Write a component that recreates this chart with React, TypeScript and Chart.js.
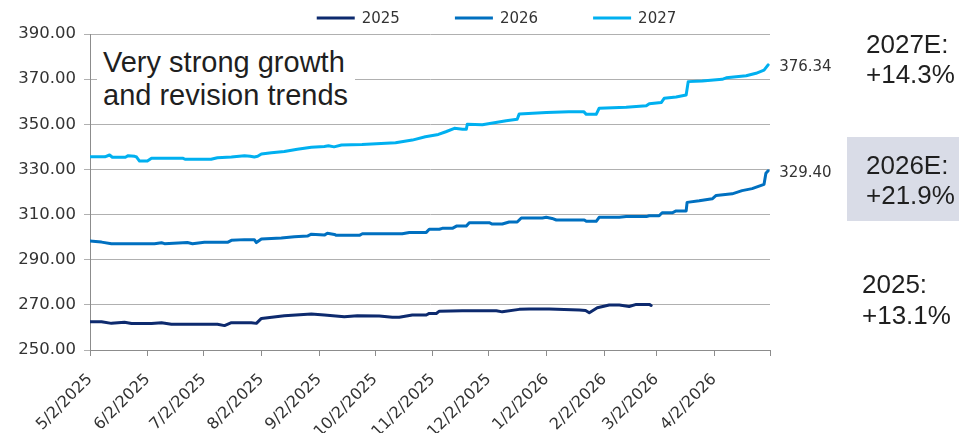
import React, { useEffect, useRef } from "react";
import { Chart, registerables } from "chart.js";

Chart.register(...registerables);

const seriesLabels = ["2025", "2026", "2027"];
const seriesColors = ["#0d2a6e", "#0070c0", "#00b0f0"];

// day offsets from 5/2/2025 and EPS estimates
const days2025 = [0, 6.2, 11.5, 18.5, 22.3, 33, 38.4, 43.7, 68.4, 72.2, 75.9, 86.6, 89.3, 92, 104.3, 118.8, 125.8, 136.5, 143.5, 155.3, 162.3, 166, 173, 180.5, 182.1, 185.9, 187.5, 199.8, 218.1, 221.3, 230.4, 235.8, 246.5, 262.6, 266, 268, 272.3, 278.7, 284.1, 289.4, 293.2, 300.2, 301.2];
const vals2025 = [262.5, 262.5, 261.8, 262.3, 261.7, 261.7, 262.1, 261.4, 261.4, 260.8, 262.1, 262.1, 261.8, 264.0, 265.2, 265.9, 265.5, 264.7, 265.2, 265.1, 264.5, 264.5, 265.5, 265.5, 266.2, 266.2, 267.2, 267.4, 267.4, 266.9, 268.0, 268.2, 268.2, 267.7, 267.5, 266.5, 268.7, 269.9, 269.9, 269.3, 270.2, 270.2, 269.7];

const days2026 = [0, 3, 6.2, 11.5, 34.6, 38.4, 40, 52.3, 55, 61.4, 73.8, 75.9, 82.9, 88.2, 89.3, 92, 102.7, 109.7, 116.7, 118.8, 125.8, 127.4, 131.2, 132.2, 144.6, 146.2, 167.6, 171.4, 180.5, 182.1, 187.5, 189.1, 194.5, 196.7, 202, 203.6, 214.3, 215.9, 221.3, 225, 229.3, 231.5, 242.8, 244.9, 248, 250.3, 265.3, 266.4, 271.7, 273.3, 284.1, 287.8, 298.6, 300.2, 305.5, 307.1, 312.5, 314.6, 320, 320.5, 327, 334, 336.1, 344.7, 350, 355.4, 361.8, 362.8, 364];
const vals2026 = [298.3, 298.1, 297.8, 297.1, 297.1, 297.5, 297.1, 297.6, 297.1, 297.7, 297.7, 298.6, 298.9, 298.9, 297.6, 299.2, 299.6, 300.2, 300.5, 301.3, 300.9, 301.7, 301.2, 300.8, 300.8, 301.5, 301.5, 302.1, 302.1, 303.5, 303.5, 303.9, 303.9, 304.9, 304.9, 306.4, 306.4, 305.8, 305.8, 306.7, 306.7, 308.5, 308.5, 308.8, 308.3, 307.6, 307.6, 307.0, 307.0, 308.8, 308.8, 309.1, 309.1, 309.5, 309.5, 310.8, 310.8, 311.6, 311.6, 315.4, 316.1, 317.0, 318.5, 319.2, 320.6, 321.5, 323.4, 328.3, 329.4];

const days2027 = [0, 8, 10.5, 12, 19, 20.5, 24, 25, 26.6, 30.8, 33, 50, 51, 65, 68.4, 75.9, 82.9, 86, 88.2, 90, 92, 97.4, 104.3, 111.3, 118.8, 125.8, 128, 131, 135, 146, 164, 173, 180, 187, 191, 195.6, 200, 202, 202.5, 210.6, 223.4, 229.3, 230.4, 245, 257, 265, 266.4, 271.7, 273.3, 287.8, 298.6, 300.2, 306.6, 308.2, 314.6, 320, 321.1, 328.6, 339.3, 341.5, 352.2, 357.5, 361.8, 364];
const vals2027 = [335.6, 335.6, 336.4, 335.4, 335.4, 336.1, 335.8, 335.5, 333.7, 333.7, 334.9, 334.9, 334.5, 334.5, 335.2, 335.5, 336.1, 335.8, 335.5, 335.8, 336.8, 337.4, 337.9, 338.9, 339.8, 340.2, 340.5, 340.0, 340.8, 341.0, 341.8, 343.0, 344.5, 345.5, 346.7, 348.2, 347.8, 347.8, 350.0, 349.8, 351.6, 352.2, 354.6, 355.2, 355.6, 355.6, 354.4, 354.4, 357.1, 357.5, 358.2, 359.1, 359.6, 361.5, 362.1, 363.0, 368.9, 369.2, 369.9, 370.6, 371.5, 372.6, 374.0, 376.34];

const seriesDays = [days2025, days2026, days2027];
const seriesVals = [vals2025, vals2026, vals2027];
const endLabelSeries = ["2026", "2027"];

const tickLabels = ["5/2/2025", "6/2/2025", "7/2/2025", "8/2/2025", "9/2/2025", "10/2/2025", "11/2/2025", "12/2/2025", "1/2/2026", "2/2/2026", "3/2/2026", "4/2/2026", ""];
const yTicks = [250, 270, 290, 310, 330, 350, 370, 390];

const tickDays = tickLabels.map(
  (_, i) => (Date.UTC(2025, 4 + i, 2) - Date.UTC(2025, 4, 2)) / 86400000
);

const TICK_FONT = "'DejaVu Sans', sans-serif";

const legendPlugin = {
  id: "customLegend",
  afterDraw(chart: any) {
    const ctx = chart.ctx;
    ctx.save();
    ctx.font = `15px ${TICK_FONT}`;
    const lineLen = 38;
    const gapText = 7;
    const spacing = 55;
    const widths = chart.data.datasets.map(
      (d: any) => lineLen + gapText + ctx.measureText(d.label).width
    );
    const total = widths.reduce((a: number, b: number) => a + b, 0) + spacing * (widths.length - 1);
    let x = 496.5 - total / 2;
    const y = 18;
    chart.data.datasets.forEach((d: any, i: number) => {
      ctx.strokeStyle = d.borderColor;
      ctx.lineWidth = 3;
      ctx.beginPath();
      ctx.moveTo(x, y);
      ctx.lineTo(x + lineLen, y);
      ctx.stroke();
      ctx.fillStyle = "#333333";
      ctx.textBaseline = "middle";
      ctx.textAlign = "left";
      ctx.fillText(d.label, x + lineLen + gapText, y + 1);
      x += widths[i] + spacing;
    });
    ctx.restore();
  },
};

const endLabelPlugin = {
  id: "endLabels",
  afterDatasetsDraw(chart: any) {
    const ctx = chart.ctx;
    ctx.save();
    ctx.font = `15px ${TICK_FONT}`;
    ctx.fillStyle = "#333333";
    ctx.textAlign = "left";
    ctx.textBaseline = "middle";
    chart.data.datasets.forEach((d: any, i: number) => {
      if (!endLabelSeries.includes(d.label)) return;
      const meta = chart.getDatasetMeta(i);
      const pt = meta.data[meta.data.length - 1];
      const v = d.data[d.data.length - 1].y;
      ctx.fillText(v.toFixed(2), pt.x + 11, pt.y + 2);
    });
    ctx.restore();
  },
};

export default function App() {
  const canvasRef = useRef<HTMLCanvasElement | null>(null);

  useEffect(() => {
    if (!canvasRef.current) return;
    const datasets = seriesLabels.map((label, i) => ({
      label,
      data: seriesDays[i].map((d, j) => ({ x: d, y: seriesVals[i][j] })),
      borderColor: seriesColors[i],
      backgroundColor: seriesColors[i],
      borderWidth: 3,
      pointRadius: 0,
      tension: 0,
      borderJoinStyle: "round" as const,
      borderCapStyle: "round" as const,
    }));

    const chart = new Chart(canvasRef.current, {
      type: "line",
      data: { datasets },
      plugins: [legendPlugin, endLabelPlugin],
      options: {
        responsive: false,
        animation: false,
        devicePixelRatio: 1,
        layout: { padding: { top: 34, right: 189, left: 0, bottom: 0 } },
        plugins: {
          legend: { display: false },
          tooltip: { enabled: false },
        },
        scales: {
          x: {
            type: "linear",
            min: 0,
            max: tickDays[tickDays.length - 1],
            afterBuildTicks: (scale: any) => {
              scale.ticks = tickDays.map((v) => ({ value: v }));
            },
            afterFit: (scale: any) => {
              scale.height = 83;
            },
            ticks: {
              autoSkip: false,
              minRotation: 45,
              maxRotation: 45,
              padding: 14,
              color: "#333333",
              font: { family: TICK_FONT, size: 16 },
              callback: (v: any) => {
                const idx = tickDays.indexOf(Number(v));
                return idx >= 0 ? tickLabels[idx] : "";
              },
            },
            grid: {
              display: true,
              drawOnChartArea: false,
              drawTicks: true,
              tickLength: 6,
              color: "#8c8c8c",
            },
            border: { display: true, color: "#8c8c8c", width: 1 },
          },
          y: {
            min: 250,
            max: 390,
            afterBuildTicks: (scale: any) => {
              scale.ticks = yTicks.map((v) => ({ value: v }));
            },
            afterFit: (scale: any) => {
              scale.width = 90;
            },
            ticks: {
              padding: 8,
              color: "#333333",
              font: { family: TICK_FONT, size: 16.5 },
              callback: (v: any) => Number(v).toFixed(2),
            },
            grid: {
              color: "#b0b0b0",
              tickLength: 6,
              lineWidth: 1,
            },
            border: { display: true, color: "#8c8c8c", width: 1 },
          },
        },
      },
    });
    return () => chart.destroy();
  }, []);

  const noteFont = "'Liberation Sans', Arial, sans-serif";

  return (
    <div
      style={{
        position: "fixed",
        left: 0,
        top: 0,
        width: 959,
        height: 433,
        background: "#ffffff",
        overflow: "hidden",
      }}
    >
      <canvas
        ref={canvasRef}
        width={959}
        height={433}
        style={{ width: 959, height: 433, display: "block" }}
      />
      <div
        style={{
          position: "absolute",
          left: 97,
          top: 40,
          width: 258,
          height: 78,
          background: "#ffffff",
          boxSizing: "border-box",
          paddingLeft: 6,
          paddingTop: 6,
          fontFamily: noteFont,
          fontSize: 29,
          lineHeight: "33px",
          color: "#1f1f1f",
          whiteSpace: "nowrap",
        }}
      >
        Very strong growth
        <br />
        and revision trends
      </div>
      <div
        style={{
          position: "absolute",
          left: 866,
          top: 29,
          fontFamily: noteFont,
          fontSize: 26,
          lineHeight: "30px",
          color: "#1f1f1f",
          whiteSpace: "nowrap",
        }}
      >
        2027E:
        <br />
        +14.3%
      </div>
      <div
        style={{
          position: "absolute",
          left: 847,
          top: 137,
          width: 112,
          height: 84,
          background: "#d9dce7",
        }}
      />
      <div
        style={{
          position: "absolute",
          left: 866,
          top: 150,
          fontFamily: noteFont,
          fontSize: 26,
          lineHeight: "30px",
          color: "#1f1f1f",
          whiteSpace: "nowrap",
        }}
      >
        2026E:
        <br />
        +21.9%
      </div>
      <div
        style={{
          position: "absolute",
          left: 862,
          top: 269,
          fontFamily: noteFont,
          fontSize: 26,
          lineHeight: "31px",
          color: "#1f1f1f",
          whiteSpace: "nowrap",
        }}
      >
        2025:
        <br />
        +13.1%
      </div>
    </div>
  );
}
